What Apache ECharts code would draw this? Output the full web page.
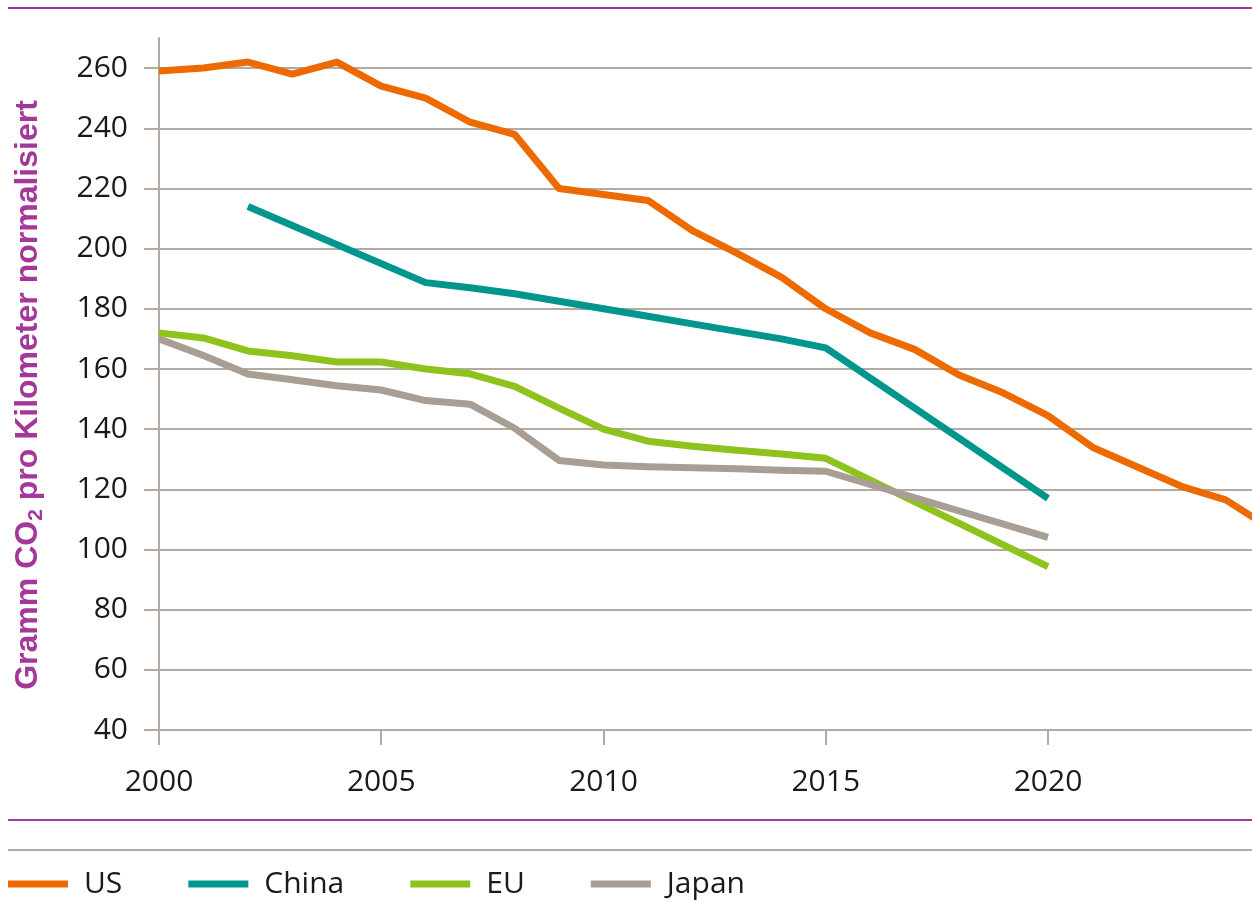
<!DOCTYPE html>
<html lang="de">
  <head>
    <meta charset="UTF-8" />
    <title>CO2 pro Kilometer</title>
    <script src="https://cdn.jsdelivr.net/npm/echarts@6.0.0/dist/echarts.min.js"></script>
    <style>
      html, body { margin: 0; padding: 0; background: #fff; }
    </style>
  </head>
  <body>
    <div id="main" style="width: 1252px; height: 901px"></div>
  </body>
  <script type="text/javascript">
    // values, [year, g CO2/km]
    const us = [
      [2000, 259], [2001, 260], [2002, 262], [2003, 258], [2004, 262],
      [2005, 254], [2006, 250], [2007, 242], [2008, 238], [2009, 220],
      [2010, 218], [2011, 216], [2012, 206], [2013, 198.5], [2014, 190.5],
      [2015, 180], [2016, 172], [2017, 166.5], [2018, 158], [2019, 152],
      [2020, 144.5], [2021, 134], [2022, 127.5], [2023, 121], [2024, 116.5],
      [2025, 107]
    ];
    const china = [
      [2002, 214], [2006, 188.7], [2007, 187], [2008, 185], [2009, 182.5],
      [2010, 180], [2011, 177.5], [2012, 175], [2013, 172.5], [2014, 170],
      [2015, 167], [2020, 117]
    ];
    const eu = [
      [2000, 172], [2001, 170.3], [2002, 166], [2003, 164.4], [2004, 162.3],
      [2005, 162.3], [2006, 160], [2007, 158.4], [2008, 154.2], [2009, 147],
      [2010, 140], [2011, 136], [2012, 134.3], [2013, 133], [2014, 131.7],
      [2015, 130.3], [2020, 94.3]
    ];
    const japan = [
      [2000, 170], [2001, 164.5], [2002, 158.3], [2003, 156.4], [2004, 154.4],
      [2005, 153], [2006, 149.5], [2007, 148.3], [2008, 140.3], [2009, 129.6],
      [2010, 128.1], [2011, 127.5], [2012, 127.2], [2013, 126.8], [2014, 126.3],
      [2015, 126], [2020, 104]
    ];
    const yTicks = [40, 60, 80, 100, 120, 140, 160, 180, 200, 220, 240, 260];
    const xTicks = [2000, 2005, 2010, 2015, 2020];

    const gridColor = "#b3aba1";
    const purple = "#a3389a";
    const font = "'Open Sans', 'Noto Sans', sans-serif";

    // one colour per split line; the extra one at the axis max stays hidden
    const splitColors = yTicks.map(() => gridColor).concat(["rgba(0,0,0,0)"]);

    function lineSeries(name, data, color) {
      return {
        name: name,
        type: "line",
        data: data,
        showSymbol: false,
        symbol: "none",
        clip: true,
        lineStyle: { color: color, width: 7, join: "round" },
        itemStyle: { color: color },
        emphasis: { disabled: true },
      };
    }

    var myChart = echarts.init(document.getElementById("main"));
    var option = {
      animation: false,
      backgroundColor: "#fff",
      grid: { left: 159, right: 0, top: 38, bottom: 171, containLabel: false },
      legend: {
        left: 8,
        top: 866,
        padding: 0,
        icon: "rect",
        itemWidth: 60,
        itemHeight: 7,
        itemGap: 66,
        textStyle: {
          fontFamily: font,
          fontSize: 30,
          color: "#1a1a1a",
          padding: [0, 0, 0, 11],
          lineHeight: 36,
        },
        data: ["US", "China", "EU", "Japan"],
      },
      xAxis: {
        type: "value",
        min: 2000,
        max: 2024.59,
        interval: 5,
        axisLine: { show: true, lineStyle: { color: gridColor, width: 2 } },
        axisTick: {
          show: true,
          length: 15,
          customValues: xTicks,
          lineStyle: { color: gridColor, width: 2 },
        },
        axisLabel: {
          customValues: xTicks,
          formatter: (v) => String(v),
          margin: 37,
          fontFamily: font,
          fontSize: 30,
          color: "#1a1a1a",
        },
        splitLine: { show: false },
      },
      yAxis: {
        type: "value",
        min: 40,
        max: 270,
        interval: 20,
        name: "{a|Gramm CO}{s|2}{a| pro Kilometer normalisiert}",
        nameLocation: "middle",
        nameRotate: 90,
        nameGap: 112,
        nameTextStyle: {
          padding: [0, 22, 0, 0],
          rich: {
            a: {
              fontFamily: "'Liberation Sans', Arial, sans-serif",
              fontWeight: "bold",
              fontSize: 32,
              color: purple,
              lineHeight: 38,
            },
            s: {
              fontFamily: "'Liberation Sans', Arial, sans-serif",
              fontWeight: "bold",
              fontSize: 21,
              color: purple,
              lineHeight: 22,
              verticalAlign: "bottom",
            },
          },
        },
        axisLine: { show: true, lineStyle: { color: gridColor, width: 2 } },
        axisTick: {
          show: true,
          length: 15,
          customValues: yTicks,
          lineStyle: { color: gridColor, width: 2 },
        },
        axisLabel: {
          customValues: yTicks,
          margin: 31,
          padding: [14, 0, 0, 0],
          fontFamily: font,
          fontSize: 30,
          color: "#1a1a1a",
        },
        splitLine: { show: true, lineStyle: { color: splitColors, width: 2 } },
      },
      graphic: [
        { type: "line", shape: { x1: 8, y1: 8, x2: 1252, y2: 8 }, style: { stroke: purple, lineWidth: 2 } },
        { type: "line", shape: { x1: 8, y1: 820, x2: 1252, y2: 820 }, style: { stroke: purple, lineWidth: 2 } },
        { type: "line", shape: { x1: 8, y1: 850, x2: 1252, y2: 850 }, style: { stroke: gridColor, lineWidth: 2 } },
      ],
      series: [
        lineSeries("US", us, "#ec6a00"),
        lineSeries("China", china, "#00968e"),
        lineSeries("EU", eu, "#8ec21c"),
        lineSeries("Japan", japan, "#a99e93"),
      ],
    };

    option && myChart.setOption(option);
  </script>
</html>
